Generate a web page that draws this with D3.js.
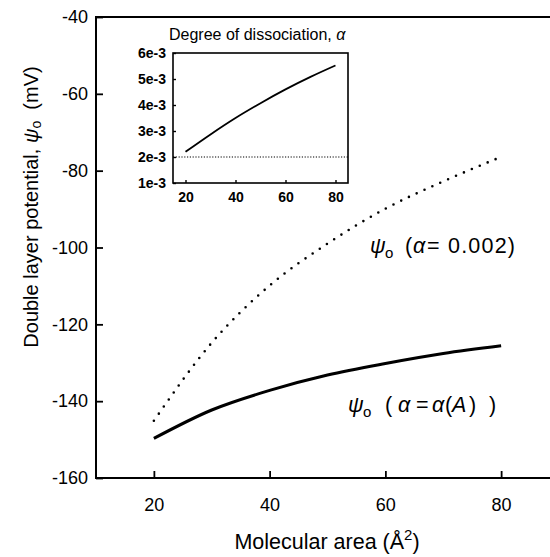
<!DOCTYPE html>
<html><head><meta charset="utf-8">
<script src="https://cdn.jsdelivr.net/npm/d3@7"></script>
<style>body{margin:0;background:#fff}svg{display:block;font-family:"Liberation Sans",Arial,sans-serif}</style>
</head><body>
<svg id="c" width="550" height="557"></svg>
<script>
const areas = [20, 30, 40, 50, 60, 70, 80];
const psiConst = [-145.1, -124.8, -109.9, -99.0, -89.9, -82.8, -76.4];
const psiVar = [-149.7, -142.3, -137.2, -133.2, -130.2, -127.6, -125.6];
const alphaVar = [2.2e-3, 2.87e-3, 3.5e-3, 4.07e-3, 4.6e-3, 5.08e-3, 5.52e-3];
const alphaConst = 2e-3;
const xTicks = [20, 40, 60, 80];
const yTicks = [-160, -140, -120, -100, -80, -60, -40];
const insetXTicks = [20, 40, 60, 80];
const insetYTicks = [1e-3, 2e-3, 3e-3, 4e-3, 5e-3, 6e-3];
const insetYLabels = ["1e-3","2e-3","3e-3","4e-3","5e-3","6e-3"];

const svg = d3.select("#c");
const x = d3.scaleLinear([10, 90], [96, 559]);
const y = d3.scaleLinear([-160, -40], [478, 17]);
const FF = "Liberation Sans, Arial, sans-serif";

const g = svg.append("g");
g.append("rect").attr("x", x(10)).attr("y", y(-40)).attr("width", x(90)-x(10)).attr("height", y(-160)-y(-40))
  .attr("fill","none").attr("stroke","#000").attr("stroke-width",2);

const xAxis = g.append("g").attr("transform", `translate(0,${y(-160)})`)
  .call(d3.axisBottom(x).tickValues(xTicks).tickSize(-7).tickPadding(20).tickFormat(d => String(d)));
const yAxis = g.append("g").attr("transform", `translate(${x(10)},0)`)
  .call(d3.axisLeft(y).tickValues(yTicks).tickSize(-7).tickPadding(8).tickFormat(d => String(d)));
[xAxis, yAxis].forEach(a => {
  a.select(".domain").remove();
  a.selectAll(".tick line").attr("stroke","#000").attr("stroke-width",1.8);
  a.selectAll(".tick text").attr("font-size",18).attr("fill","#000").attr("font-family",FF);
});

const line = d3.line().x((d,i)=>x(areas[i])).y(d=>y(d)).curve(d3.curveMonotoneX);
g.append("path").attr("d", line(psiVar)).attr("fill","none").attr("stroke","#000").attr("stroke-width",3);
g.append("path").attr("d", line(psiConst)).attr("fill","none").attr("stroke","#000").attr("stroke-width",2.6)
  .attr("stroke-linecap","round").attr("stroke-dasharray","0 8.6");

// axis titles
svg.append("text").attr("transform","translate(38,207) rotate(-90)").attr("text-anchor","middle")
  .attr("font-size",20).html('Double layer potential, <tspan font-style="italic">ψ</tspan><tspan font-size="14" dy="3">o</tspan><tspan dy="-3" xml:space="preserve">  (mV)</tspan>');
svg.append("text").attr("x",327).attr("y",549).attr("text-anchor","middle").attr("font-size",21.5)
  .html('Molecular area (Å<tspan font-size="15" dy="-9">2</tspan><tspan dy="9">)</tspan>');

// annotations
const ann1 = svg.append("text").attr("y",253).attr("font-size",21.5);
ann1.append("tspan").attr("x",370).attr("font-style","italic").text("ψ");
ann1.append("tspan").attr("x",385).attr("dy",5).attr("font-size",15).text("o");
ann1.append("tspan").attr("x",405).attr("dy",-5).text("(");
ann1.append("tspan").attr("x",413).attr("font-style","italic").text("α");
ann1.append("tspan").attr("x",427).text("=");
ann1.append("tspan").attr("x",448).attr("letter-spacing",1.2).text("0.002)");

const ann2 = svg.append("text").attr("y",412).attr("font-size",21.5);
ann2.append("tspan").attr("x",348).attr("font-style","italic").text("ψ");
ann2.append("tspan").attr("x",363).attr("dy",5).attr("font-size",15).text("o");
ann2.append("tspan").attr("x",385).attr("dy",-5).text("(");
ann2.append("tspan").attr("x",398).attr("font-style","italic").text("α");
ann2.append("tspan").attr("x",416).text("=");
ann2.append("tspan").attr("x",432).attr("font-style","italic").text("α");
ann2.append("tspan").attr("x",445).text("(");
ann2.append("tspan").attr("x",452).attr("font-style","italic").text("A");
ann2.append("tspan").attr("x",469).text(")");
ann2.append("tspan").attr("x",489).text(")");

// inset
const xi = d3.scaleLinear([15, 85], [173, 348]);
const yi = d3.scaleLinear([1e-3, 6e-3], [183, 53]);
const ig = svg.append("g");
ig.append("rect").attr("x",xi(15)).attr("y",yi(6e-3)).attr("width",xi(85)-xi(15)).attr("height",yi(1e-3)-yi(6e-3))
  .attr("fill","none").attr("stroke","#000").attr("stroke-width",1.6);
const ixa = ig.append("g").attr("transform",`translate(0,${yi(1e-3)})`)
  .call(d3.axisBottom(xi).tickValues(insetXTicks).tickSize(-3).tickPadding(9).tickFormat(d => String(d)));
const iya = ig.append("g").attr("transform",`translate(${xi(15)},0)`)
  .call(d3.axisLeft(yi).tickValues(insetYTicks).tickSize(-3).tickPadding(7).tickFormat((d,i)=>insetYLabels[i]));
[ixa, iya].forEach(a => {
  a.select(".domain").remove();
  a.selectAll(".tick line").attr("stroke","#000").attr("stroke-width",1.4);
  a.selectAll(".tick text").attr("font-size",14).attr("font-weight","bold").attr("fill","#000").attr("font-family",FF);
});
const iline = d3.line().x((d,i)=>xi(areas[i])).y(d=>yi(d)).curve(d3.curveMonotoneX);
ig.append("path").attr("d", iline(alphaVar)).attr("fill","none").attr("stroke","#000").attr("stroke-width",1.8);
ig.append("line").attr("x1",xi(15)).attr("x2",xi(85)).attr("y1",yi(alphaConst)).attr("y2",yi(alphaConst))
  .attr("stroke","#000").attr("stroke-width",1.2).attr("stroke-dasharray","1.2 1.6");
svg.append("text").attr("x",169).attr("y",40).attr("font-size",16)
  .html('Degree of dissociation, <tspan font-style="italic">α</tspan>');
</script>
</body></html>
